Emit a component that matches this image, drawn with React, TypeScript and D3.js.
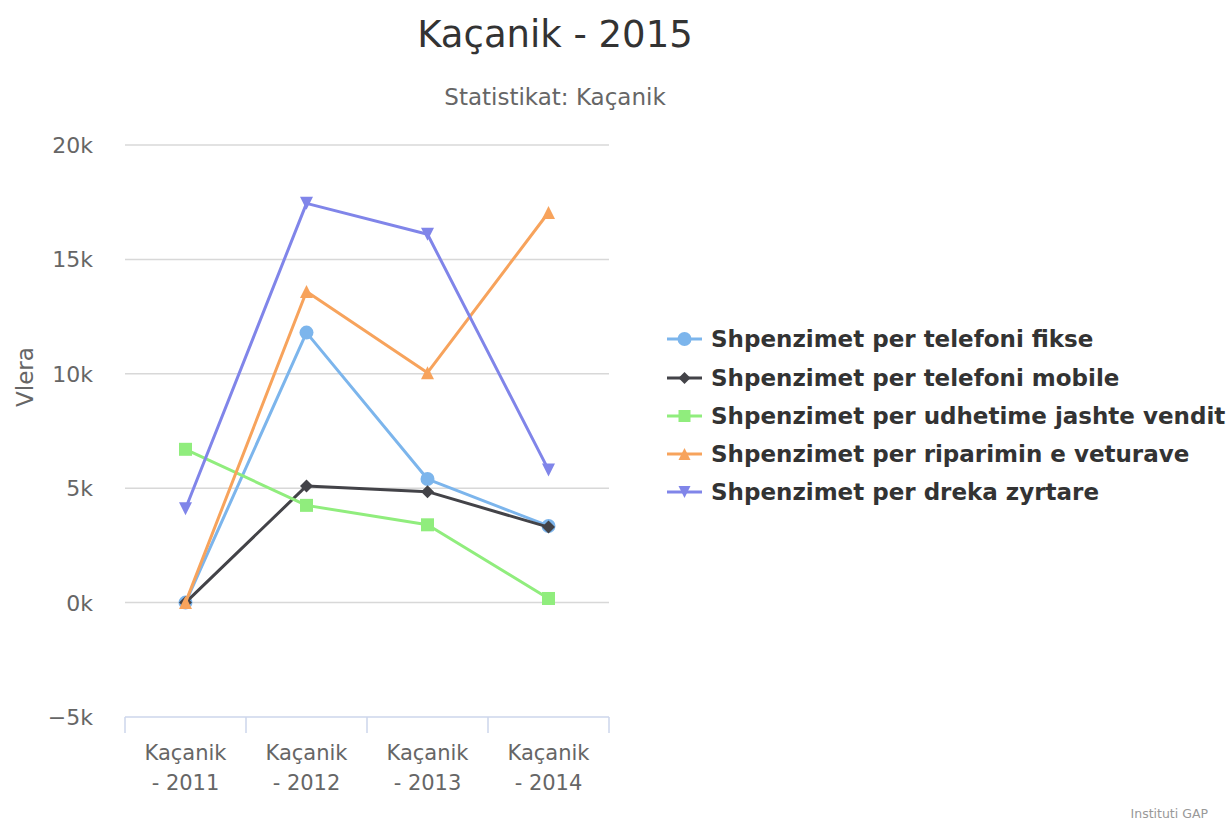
import React from "react";
import * as d3 from "d3";

const categories = ["Kaçanik - 2011", "Kaçanik - 2012", "Kaçanik - 2013", "Kaçanik - 2014"];
const yTicks = [-5000, 0, 5000, 10000, 15000, 20000];

const seriesNames = [
  "Shpenzimet per telefoni fikse",
  "Shpenzimet per telefoni mobile",
  "Shpenzimet per udhetime jashte vendit",
  "Shpenzimet per riparimin e veturave",
  "Shpenzimet per dreka zyrtare",
];
const fikse = [0, 11800, 5400, 3350];
const mobile = [0, 5100, 4850, 3300];
const udhetime = [6700, 4250, 3400, 180];
const riparimin = [0, 13600, 10050, 17050];
const dreka = [4100, 17450, 16100, 5800];

const seriesValues = [fikse, mobile, udhetime, riparimin, dreka];
const colors = ["#7cb5ec", "#434348", "#90ed7d", "#f7a35c", "#8085e9"];
const symbols = ["circle", "diamond", "square", "triangle", "triangle-down"];

const FONT = "'DejaVu Sans', sans-serif";

function Marker({ type, x, y, color, r }: { type: string; x: number; y: number; color: string; r: number }) {
  if (type === "circle") return <circle cx={x} cy={y} r={r} fill={color} />;
  if (type === "square") return <rect x={x - r} y={y - r} width={2 * r} height={2 * r} fill={color} />;
  if (type === "diamond")
    return <path d={`M${x},${y - r}L${x + r},${y}L${x},${y + r}L${x - r},${y}Z`} fill={color} />;
  if (type === "triangle")
    return <path d={`M${x},${y - r}L${x + r},${y + r}L${x - r},${y + r}Z`} fill={color} />;
  return <path d={`M${x - r},${y - r}L${x + r},${y - r}L${x},${y + r}Z`} fill={color} />;
}

export default function App() {
  const W = 1229;
  const H = 824;
  const left = 125, right = 609, top = 145, bottom = 717;
  const x = d3.scaleBand<string>().domain(categories).range([left, right]);
  const y = d3.scaleLinear().domain([-5000, 20000]).range([bottom, top]);
  const cx = (c: string) => (x(c) as number) + x.bandwidth() / 2;
  const line = d3
    .line<number>()
    .x((_, i) => cx(categories[i]))
    .y((d) => y(d));

  const legendY = [339, 378, 416, 454, 492];

  return (
    <svg width={W} height={H} style={{ position: "absolute", left: 0, top: 0, background: "#fff" }} fontFamily={FONT}>
      <rect width={W} height={H} fill="#fff" />
      <text x={555} y={47} textAnchor="middle" fontSize={37} fill="#333">
        Kaçanik - 2015
      </text>
      <text x={555} y={105} textAnchor="middle" fontSize={23} fill="#666">
        Statistikat: Kaçanik
      </text>

      {yTicks.map((t) =>
        t === -5000 ? null : (
          <line key={t} x1={left} x2={right} y1={y(t)} y2={y(t)} stroke="#d8d8d8" strokeWidth={1.5} />
        )
      )}
      {yTicks.map((t) => (
        <text key={"l" + t} x={93} y={y(t) + 8} textAnchor="end" fontSize={22} fill="#666">
          {t === -5000 ? "−5k" : `${t / 1000}k`}
        </text>
      ))}
      <text transform="translate(33,377) rotate(-90)" textAnchor="middle" fontSize={23} fill="#666">
        Vlera
      </text>

      <line x1={left} x2={right} y1={bottom} y2={bottom} stroke="#ccd6eb" strokeWidth={1.5} />
      {[...categories.map((c) => x(c) as number), right].map((bx, i) => (
        <line key={"t" + i} x1={bx} x2={bx} y1={bottom} y2={bottom + 16} stroke="#ccd6eb" strokeWidth={1.5} />
      ))}
      {categories.map((c) => {
        const [a, b] = c.split(" - ");
        return (
          <text key={c} x={cx(c)} textAnchor="middle" fontSize={21} fill="#666">
            <tspan x={cx(c)} y={760}>{a}</tspan>
            <tspan x={cx(c)} y={790}>{"- " + b}</tspan>
          </text>
        );
      })}

      {seriesValues.map((vals, si) => (
        <g key={si}>
          <path d={line(vals) as string} fill="none" stroke={colors[si]} strokeWidth={3} strokeLinejoin="round" strokeLinecap="round" />
          {vals.map((v, i) => (
            <Marker key={i} type={symbols[si]} x={cx(categories[i])} y={y(v)} color={colors[si]} r={symbols[si] === "circle" ? 7 : 6.5} />
          ))}
        </g>
      ))}

      {seriesNames.map((n, i) => (
        <g key={n}>
          <line x1={667} x2={702} y1={legendY[i]} y2={legendY[i]} stroke={colors[i]} strokeWidth={3} />
          <Marker type={symbols[i]} x={684.5} y={legendY[i]} color={colors[i]} r={symbols[i] === "circle" ? 7 : 6} />
          <text x={711} y={legendY[i] + 8} fontSize={23} fontWeight="bold" fill="#333">
            {n}
          </text>
        </g>
      ))}

      <text x={1208} y={818} textAnchor="end" fontSize={12.5} fill="#999">
        Instituti GAP
      </text>
    </svg>
  );
}
